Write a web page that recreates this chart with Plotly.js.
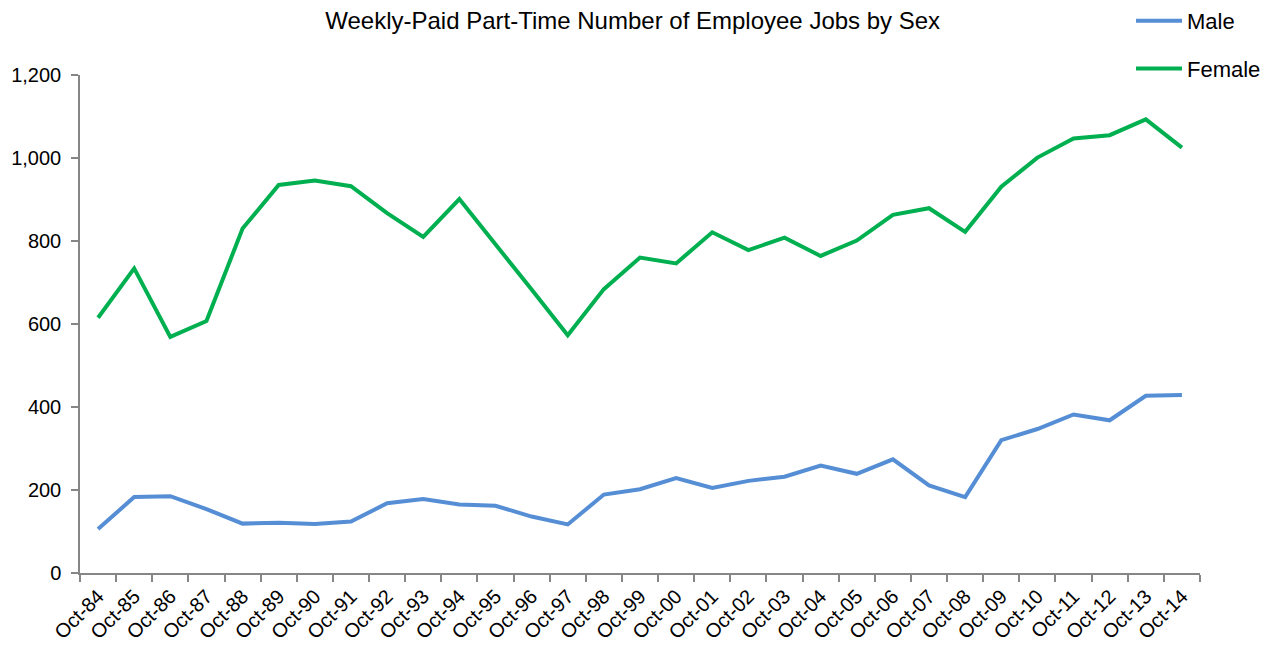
<!DOCTYPE html>
<html>
<head>
<meta charset="utf-8">
<script src="https://cdn.plot.ly/plotly-3.0.1.min.js"></script>
<style>html,body{margin:0;padding:0;background:#fff;}#chart{width:1273px;height:650px;}</style>
</head>
<body>
<div id="chart"></div>
<script>
const categories = ["Oct-84","Oct-85","Oct-86","Oct-87","Oct-88","Oct-89","Oct-90","Oct-91","Oct-92","Oct-93",
  "Oct-94","Oct-95","Oct-96","Oct-97","Oct-98","Oct-99","Oct-00","Oct-01","Oct-02","Oct-03",
  "Oct-04","Oct-05","Oct-06","Oct-07","Oct-08","Oct-09","Oct-10","Oct-11","Oct-12","Oct-13","Oct-14"];
const maleValues = [106,183,185,154,119,121,118,124,168,178,
  165,162,136,117,189,202,229,205,222,232,
  259,239,274,211,183,320,347,382,368,427,429];
const femaleValues = [615,734,569,607,830,935,946,932,867,810,
  901,793,683,573,684,760,746,821,778,808,
  764,801,863,879,822,931,1001,1047,1055,1093,1025];
const yTicks = [0,200,400,600,800,1000,1200];

const FONT = "Liberation Sans, Arial, sans-serif";

const traces = [
  {x: categories, y: maleValues, type: "scatter", mode: "lines", name: "Male",
   legendgroup: "m", line: {color: "#558ED5", width: 4}},
  {x: categories, y: femaleValues, type: "scatter", mode: "lines", name: "Female",
   legendgroup: "f", line: {color: "#00B050", width: 4}}
];

const layout = {
  width: 1273, height: 650,
  margin: {l: 80, r: 73, t: 75, b: 77, autoexpand: false},
  paper_bgcolor: "#fff", plot_bgcolor: "#fff",
  font: {family: FONT, color: "#000", size: 18},
  title: {text: "Weekly-Paid Part-Time Number of Employee Jobs by Sex",
          font: {family: FONT, size: 24, color: "#000"},
          x: 0.497, xanchor: "center", y: 0.968, yanchor: "middle", yref: "container"},
  showlegend: true,
  legend: {x: 1131/1273, xref: "container", xanchor: "left", y: 1.0, yref: "container", yanchor: "top",
           font: {family: FONT, size: 22, color: "#000"}, tracegroupgap: 16, itemwidth: 46,
           bgcolor: "rgba(0,0,0,0)"},
  xaxis: {type: "category", range: [-0.5, categories.length - 0.5], tickson: "boundaries",
          ticks: "outside", ticklen: 7, tickcolor: "#868686", tickwidth: 1.5,
          showline: true, linecolor: "#868686", linewidth: 1.5, showgrid: false, zeroline: false,
          tickangle: -45, ticklabelstandoff: 2, tickfont: {family: FONT, size: 20, color: "#000"}},
  yaxis: {range: [0, 1200], tickvals: yTicks, tickformat: ",",
          ticks: "outside", ticklen: 7, tickcolor: "#868686", tickwidth: 1.5,
          showline: true, linecolor: "#868686", linewidth: 1.5, showgrid: false, zeroline: false,
          ticklabelstandoff: 6, tickfont: {family: FONT, size: 20, color: "#000"}}
};

Plotly.newPlot("chart", traces, layout, {displayModeBar: false, responsive: false});
</script>
</body>
</html>
